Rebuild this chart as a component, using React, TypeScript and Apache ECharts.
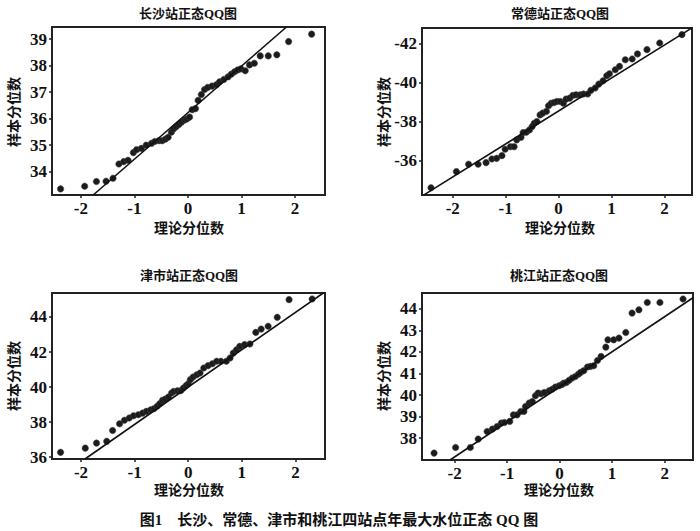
import React, { useEffect, useRef } from "react";
import * as echarts from "echarts";

// ---------- data ----------
const xTicks = [-2, -1, 0, 1, 2];
const csTicks = [34, 35, 36, 37, 38, 39];
const cdTicks = [-42, -40, -38, -36];
const jsTicks = [36, 38, 40, 42, 44];
const tjTicks = [38, 39, 40, 41, 42, 43, 44];

const titles = ["长沙站正态QQ图", "常德站正态QQ图", "津市站正态QQ图", "桃江站正态QQ图"];
const xName = "理论分位数";
const yName = "样本分位数";
const caption = "图1　长沙、常德、津市和桃江四站点年最大水位正态 QQ 图";

// 长沙
const csX = [-2.38, -1.93, -1.71, -1.53, -1.40, -1.29, -1.20, -1.12, -1.02, -0.96, -0.87, -0.78, -0.68, -0.62, -0.54, -0.48, -0.42, -0.37, -0.31, -0.27, -0.22, -0.17, -0.12, -0.06, -0.02,
  0.03, 0.08, 0.14, 0.19, 0.25, 0.31, 0.37, 0.45, 0.53, 0.59, 0.67, 0.75, 0.81, 0.87, 0.93, 0.99, 1.07, 1.15, 1.24, 1.35, 1.50, 1.66, 1.88, 2.31];
const csY = [33.35, 33.45, 33.63, 33.64, 33.75, 34.29, 34.38, 34.43, 34.72, 34.83, 34.88, 35.0, 35.07, 35.14, 35.17, 35.17, 35.23, 35.30, 35.49, 35.61, 35.70, 35.78, 35.87, 35.95, 35.99,
  36.06, 36.34, 36.38, 36.69, 36.91, 37.10, 37.18, 37.23, 37.28, 37.39, 37.48, 37.58, 37.68, 37.77, 37.84, 37.88, 37.81, 38.03, 38.09, 38.37, 38.37, 38.41, 38.91, 39.19];
const csLine = [[-1.77, 33.12], [1.84, 39.46]];

// 常德
const cdX = [-2.41, -1.93, -1.70, -1.52, -1.37, -1.26, -1.17, -1.07, -1.01, -0.91, -0.84, -0.79, -0.71, -0.67, -0.61, -0.55, -0.50, -0.46, -0.41, -0.35, -0.30, -0.23, -0.19, -0.14, -0.08, -0.03,
  0.03, 0.09, 0.14, 0.21, 0.27, 0.33, 0.41, 0.47, 0.55, 0.61, 0.69, 0.76, 0.84, 0.91, 0.96, 1.07, 1.15, 1.26, 1.39, 1.49, 1.67, 1.91, 2.33];
const cdY = [-34.62, -35.45, -35.83, -35.83, -35.91, -36.10, -36.13, -36.27, -36.60, -36.73, -36.73, -37.08, -37.21, -37.45, -37.47, -37.59, -37.76, -37.93, -38.02, -38.36, -38.45, -38.54, -38.83, -38.96, -39.0, -39.05,
  -39.05, -38.96, -39.17, -39.22, -39.36, -39.39, -39.39, -39.43, -39.43, -39.62, -39.74, -39.94, -40.11, -40.37, -40.47, -40.68, -40.85, -41.19, -41.23, -41.49, -41.71, -42.05, -42.48];
const cdLine = [[-2.55, -34.24], [2.52, -42.83]];

// 津市
const jsX = [-2.38, -1.92, -1.71, -1.52, -1.41, -1.28, -1.19, -1.10, -1.02, -0.93, -0.85, -0.78, -0.70, -0.64, -0.58, -0.53, -0.48, -0.43, -0.37, -0.31, -0.27, -0.20, -0.14, -0.09, -0.04, 0.0,
  0.04, 0.09, 0.16, 0.22, 0.29, 0.37, 0.45, 0.53, 0.61, 0.71, 0.78, 0.84, 0.90, 0.96, 1.05, 1.15, 1.26, 1.36, 1.49, 1.66, 1.88, 2.31];
const jsY = [36.27, 36.51, 36.80, 36.90, 37.52, 37.90, 38.10, 38.23, 38.36, 38.42, 38.51, 38.61, 38.70, 38.76, 38.90, 39.05, 39.24, 39.31, 39.43, 39.66, 39.75, 39.79, 39.79, 39.94, 40.08, 40.19,
  40.42, 40.57, 40.70, 40.80, 41.09, 41.22, 41.33, 41.47, 41.47, 41.47, 41.66, 41.94, 42.13, 42.32, 42.42, 42.46, 43.12, 43.31, 43.47, 43.98, 44.99, 45.03];
const jsLine = [[-1.925, 35.89], [2.55, 45.44]];

// 桃江
const tjX = [-2.39, -1.98, -1.70, -1.55, -1.38, -1.28, -1.19, -1.11, -1.05, -0.95, -0.88, -0.81, -0.74, -0.68, -0.65, -0.58, -0.52, -0.46, -0.41, -0.35, -0.29, -0.20, -0.14, -0.08, -0.01,
  0.04, 0.08, 0.13, 0.18, 0.24, 0.30, 0.36, 0.40, 0.46, 0.53, 0.59, 0.65, 0.72, 0.79, 0.88, 0.92, 1.03, 1.13, 1.26, 1.38, 1.51, 1.67, 1.91, 2.35];
const tjY = [37.31, 37.57, 37.57, 37.96, 38.31, 38.42, 38.54, 38.70, 38.73, 38.78, 39.08, 39.08, 39.24, 39.24, 39.47, 39.63, 39.70, 39.97, 40.09, 40.06, 40.12, 40.20, 40.27, 40.37, 40.43,
  40.48, 40.55, 40.58, 40.68, 40.79, 40.86, 40.97, 41.05, 41.13, 41.30, 41.33, 41.36, 41.60, 41.79, 42.22, 42.56, 42.56, 42.64, 42.90, 43.80, 43.95, 44.29, 44.29, 44.45];
const tjLine = [[-2.08, 37.0], [2.54, 44.51]];

// ---------- layout ----------
const FONT_NUM = '"Liberation Serif", "Times New Roman", serif';
const FONT_CJK = '"Liberation Serif", "Noto Sans CJK SC", sans-serif';

const grids = [
  { left: 52, top: 27, width: 273, height: 168 },
  { left: 422, top: 28, width: 270, height: 167 },
  { left: 52, top: 293, width: 273, height: 166 },
  { left: 422, top: 293, width: 271, height: 167 },
];
const xRanges = [[-2.54, 2.56], [-2.58, 2.52], [-2.54, 2.55], [-2.62, 2.54]];
const yRanges = [[33.12, 39.46], [-42.82, -34.25], [35.89, 45.37], [36.99, 44.73]];
const yTickSets = [csTicks, cdTicks, jsTicks, tjTicks];
const xsAll = [csX, cdX, jsX, tjX];
const ysAll = [csY, cdY, jsY, tjY];
const linesAll = [csLine, cdLine, jsLine, tjLine];
const titlePos = [[188, 13], [560, 13], [189, 275], [559, 275]];
const xNamePos = [[189, 228], [560, 228], [189, 490], [559, 490]];
const yNamePos = [[14, 112], [384, 112], [14, 376], [384, 376]];

export default function App() {
  const ref = useRef<HTMLDivElement>(null);
  useEffect(() => {
    if (!ref.current) return;
    const chart = echarts.init(ref.current, undefined, { renderer: "svg" });
    const labelStyle = { fontFamily: FONT_NUM, fontWeight: "bold", fontSize: 17, color: "#111" };

    const xAxis = grids.map((_, i) => ({
      type: "value",
      gridIndex: i,
      position: "bottom",
      min: xRanges[i][0],
      max: xRanges[i][1],
      splitLine: { show: false },
      axisLine: { show: false, onZero: false },
      axisTick: { show: true, length: 3, customValues: xTicks, lineStyle: { color: "#222", width: 1.5 } },
      axisLabel: { ...labelStyle, margin: 5, customValues: xTicks },
    }));
    const yAxis = grids.map((_, i) => ({
      type: "value",
      gridIndex: i,
      position: "left",
      min: yRanges[i][0],
      max: yRanges[i][1],
      inverse: i === 1,
      splitLine: { show: false },
      axisLine: { show: false, onZero: false },
      axisTick: { show: true, length: 3, customValues: yTickSets[i], lineStyle: { color: "#222", width: 1.5 } },
      axisLabel: { ...labelStyle, margin: 5, customValues: yTickSets[i] },
    }));

    const series: any[] = [];
    for (let i = 0; i < 4; i++) {
      series.push({
        type: "line",
        xAxisIndex: i,
        yAxisIndex: i,
        data: linesAll[i],
        showSymbol: false,
        symbol: "none",
        clip: true,
        lineStyle: { color: "#111", width: 1.6 },
        silent: true,
      });
      series.push({
        type: "scatter",
        xAxisIndex: i,
        yAxisIndex: i,
        data: xsAll[i].map((x, k) => [x, ysAll[i][k]]),
        symbolSize: 6.5,
        clip: true,
        itemStyle: { color: "#1c1c1c", borderColor: "#444", borderWidth: 0.5, opacity: 1 },
      });
    }

    const graphics: any[] = [];
    titles.forEach((t, i) => {
      graphics.push({
        type: "text",
        x: titlePos[i][0],
        y: titlePos[i][1],
        style: { text: t, align: "center", verticalAlign: "middle", font: `bold 13px ${FONT_CJK}`, fill: "#111" },
      });
      graphics.push({
        type: "text",
        x: xNamePos[i][0],
        y: xNamePos[i][1],
        style: { text: xName, align: "center", verticalAlign: "middle", font: `bold 14px ${FONT_CJK}`, fill: "#111" },
      });
      graphics.push({
        type: "text",
        x: yNamePos[i][0],
        y: yNamePos[i][1],
        rotation: Math.PI / 2,
        style: { text: yName, align: "center", verticalAlign: "middle", font: `bold 14px ${FONT_CJK}`, fill: "#111" },
      });
    });
    graphics.push({
      type: "text",
      x: 339,
      y: 520,
      style: { text: caption, align: "center", verticalAlign: "middle", font: `bold 15px ${FONT_CJK}`, fill: "#111" },
    });

    chart.setOption({
      animation: false,
      backgroundColor: "#ffffff",
      grid: grids.map((g) => ({ ...g, show: true, borderColor: "#222", borderWidth: 2, backgroundColor: "transparent" })),
      xAxis,
      yAxis,
      series,
      graphic: graphics,
    });
    return () => chart.dispose();
  }, []);
  return <div ref={ref} style={{ position: "fixed", left: 0, top: 0, width: 700, height: 531, background: "#fff" }} />;
}
